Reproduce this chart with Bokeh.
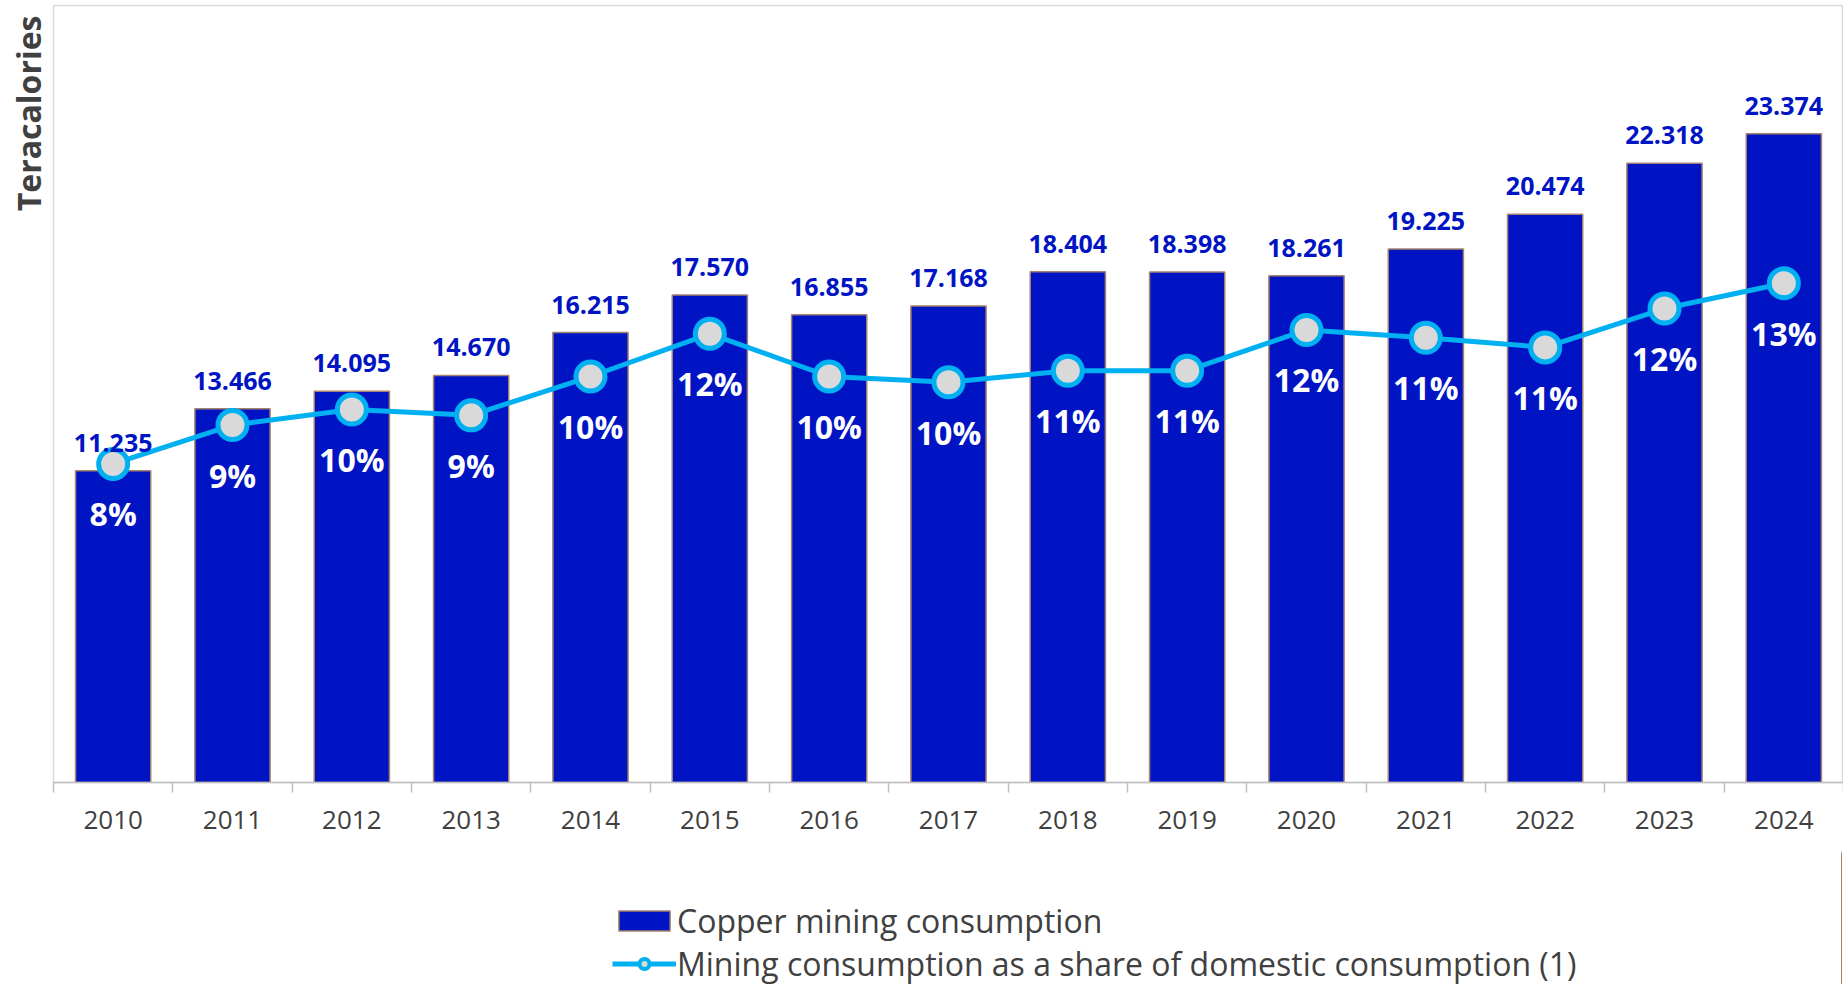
import numpy as np
from bokeh.plotting import figure
from bokeh.layouts import column
from bokeh.models import (Range1d, LinearAxis, FixedTicker, Legend, LegendItem,
                          Title, ColumnDataSource)
from bokeh.core.properties import value
from bokeh.embed import file_html
from bokeh.resources import INLINE

years = ["2010", "2011", "2012", "2013", "2014", "2015", "2016", "2017",
         "2018", "2019", "2020", "2021", "2022", "2023", "2024"]
consumption = [11235, 13466, 14095, 14670, 16215, 17570, 16855, 17168,
               18404, 18398, 18261, 19225, 20474, 22318, 23374]
share = [8.2, 9.2, 9.6, 9.45, 10.45, 11.55, 10.45, 10.3,
         10.6, 10.6, 11.65, 11.45, 11.2, 12.2, 12.85]
series_names = ["Copper mining consumption",
                "Mining consumption as a share of domestic consumption (1)"]

FONT = "Open Sans"
BAR = "#0014C3"
BAR_EDGE = "#A5826E"
LINE = "#00B0F0"
DOT = "#D9D9D9"
TXT = "#404040"

xpos = np.arange(len(years)) + 0.5
src = ColumnDataSource(dict(
    x=xpos, cons=consumption, share=share,
    cons_lbl=[f"{v:,}".replace(",", ".") for v in consumption],
    share_lbl=[f"{s:.0f}%" for s in share],
))

# ---------------- main chart ----------------
p = figure(frame_width=1790, frame_height=777,
           x_range=Range1d(0, len(years)), y_range=Range1d(0, 28000),
           x_axis_location=None, y_axis_location=None,
           output_backend="svg", toolbar_location=None,
           min_border_left=52, min_border_top=5, min_border_right=0,
           min_border_bottom=70)
p.extra_y_ranges = {"pct": Range1d(0, 20)}
p.xgrid.visible = False
p.ygrid.visible = False
p.outline_line_color = "#D9D9D9"
p.outline_line_width = 1.5

p.vbar(x="x", top="cons", width=0.63, bottom=0, source=src,
       fill_color=BAR, line_color=BAR_EDGE, line_width=1.5)
p.line(x="x", y="share", source=src, y_range_name="pct",
       line_color=LINE, line_width=5)
p.scatter(x="x", y="share", source=src, y_range_name="pct", size=29,
          fill_color=DOT, line_color=LINE, line_width=5)

p.text(x="x", y="cons", text="cons_lbl", source=src, y_offset=-28,
       text_align="center", text_baseline="middle", text_font=value(FONT),
       text_font_style="bold", text_font_size="25px", text_color=BAR)
p.text(x="x", y="share", text="share_lbl", source=src, y_range_name="pct",
       y_offset=50, text_align="center", text_baseline="middle",
       text_font=value(FONT), text_font_style="bold", text_font_size="32px",
       text_color="white")

xaxis = LinearAxis(
    ticker=FixedTicker(ticks=list(xpos), minor_ticks=list(range(len(years) + 1))),
    major_label_overrides={float(xv): yr for xv, yr in zip(xpos, years)},
)
xaxis.major_tick_out = 0
xaxis.major_tick_in = 0
xaxis.minor_tick_out = 10
xaxis.minor_tick_in = 0
xaxis.minor_tick_line_color = "#BFBFBF"
xaxis.minor_tick_line_width = 1.5
xaxis.axis_line_color = "#BFBFBF"
xaxis.axis_line_width = 1.5
xaxis.major_label_standoff = 18
xaxis.major_label_text_font = FONT
xaxis.major_label_text_font_size = "26px"
xaxis.major_label_text_color = TXT
p.add_layout(xaxis, "below")

p.add_layout(Title(text="Teracalories", align="right", offset=10, standoff=8,
                   text_font=FONT, text_font_size="32px",
                   text_font_style="bold", text_color=TXT), "left")

# ---------------- legend strip ----------------
# same series drawn again, but outside this strip's visible x-range, so only
# the legend keys show
lg = figure(width=1842, height=132, x_range=Range1d(-2, -1), y_range=Range1d(0, 1),
            x_axis_location=None, y_axis_location=None,
            output_backend="svg", toolbar_location=None,
            min_border_left=0, min_border_right=0, min_border_top=0,
            min_border_bottom=0)
lg.xgrid.visible = False
lg.ygrid.visible = False
lg.outline_line_color = None
k_bar = lg.vbar(x="x", top="cons", width=0.63, source=src,
                fill_color=BAR, line_color=BAR_EDGE, line_width=1.5)
k_line = lg.line(x="x", y="share", source=src, line_color=LINE, line_width=5)
k_dot = lg.scatter(x="x", y="share", source=src, size=24,
                   fill_color=DOT, line_color=LINE, line_width=4)

legend = Legend(items=[
    LegendItem(label=series_names[0], renderers=[k_bar]),
    LegendItem(label=series_names[1], renderers=[k_line, k_dot]),
], location=(559, -1), orientation="vertical", glyph_width=64, glyph_height=25,
    label_text_font=FONT, label_text_font_size="32px", label_text_color=TXT,
    label_standoff=1, spacing=0, padding=0, margin=0,
    border_line_color=None, background_fill_alpha=0)
lg.add_layout(legend, "center")

open("out.html", "w").write(file_html(column(p, lg, spacing=0), INLINE))
